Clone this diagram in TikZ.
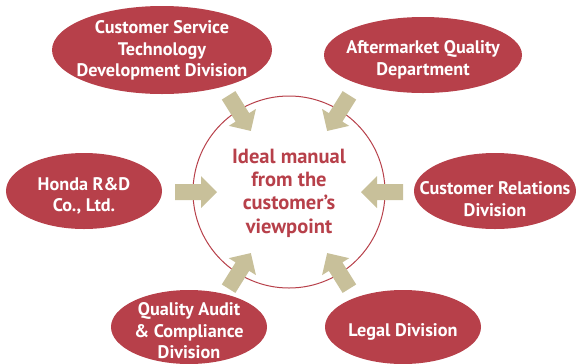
\documentclass[tikz,border=0pt]{standalone}
\usepackage{fontspec}
\setmainfont{PT Sans}
\usetikzlibrary{shapes.geometric}
\definecolor{hred}{RGB}{183,64,74}
\definecolor{khaki}{RGB}{200,192,154}
\tikzset{
  unit/.style={x=1bp,y=-1bp},
  dept/.style={ellipse, fill=hred, draw=none, inner sep=0pt},
  deptlabel/.style={inner sep=0pt, text=white,
    font=\bfseries\fontsize{18.2bp}{21.5bp}\selectfont, align=center},
  hub/.style={circle, draw=hred, line width=1bp, minimum size=192bp, inner sep=0pt},
  hublabel/.style={inner sep=0pt, text=hred,
    font=\bfseries\fontsize{20.5bp}{23.4bp}\selectfont, align=center},
  blockarrow/.style={fill=khaki, draw=none}
}
\begin{document}
\begin{tikzpicture}[unit]
\useasboundingbox (0,0) rectangle (576,363);
\node[hub] (hub) at (289,192) {};
\node[hublabel] (hubt) at (289,193) {Ideal manual\\from the\\customer’s\\viewpoint};
\node[dept, minimum width=220bp, minimum height=88bp] (cstd) at (162,50) {};
\node[deptlabel] (cstdt) at (cstd.center) [yshift=-0.5bp] {Customer Service\\Technology\\Development Division};
\node[dept, minimum width=198bp, minimum height=76bp] (aqd) at (423,55) {};
\node[deptlabel] (aqdt) at (423,60) {Aftermarket Quality\\Department};
\node[dept, minimum width=156bp, minimum height=76bp] (honda) at (84,191) {};
\node[deptlabel] (hondat) at (84,196) {Honda R\&D\\Co., Ltd.};
\node[dept, minimum width=162bp, minimum height=76bp] (crd) at (495,191) {};
\node[deptlabel] (crdt) at (495,199) {Customer Relations\\Division};
\node[dept, minimum width=156bp, minimum height=74bp] (qac) at (189,327) {};
\node[deptlabel] (qact) at (189,331) {Quality Audit\\\& Compliance\\Division};
\node[dept, minimum width=156bp, minimum height=74bp] (legal) at (403,327) {};
\node[deptlabel] (legalt) at (403,332) {Legal Division};
\foreach \ang in {0,-58,-122,180,122,58}{
  \begin{scope}[shift={(hub.center)}, rotate=\ang]
    \fill[blockarrow] (114,8) -- (88,8) -- (88,16) -- (72,0) -- (88,-16) -- (88,-8) -- (114,-8) -- cycle;
  \end{scope}
}
\end{tikzpicture}
\end{document}
